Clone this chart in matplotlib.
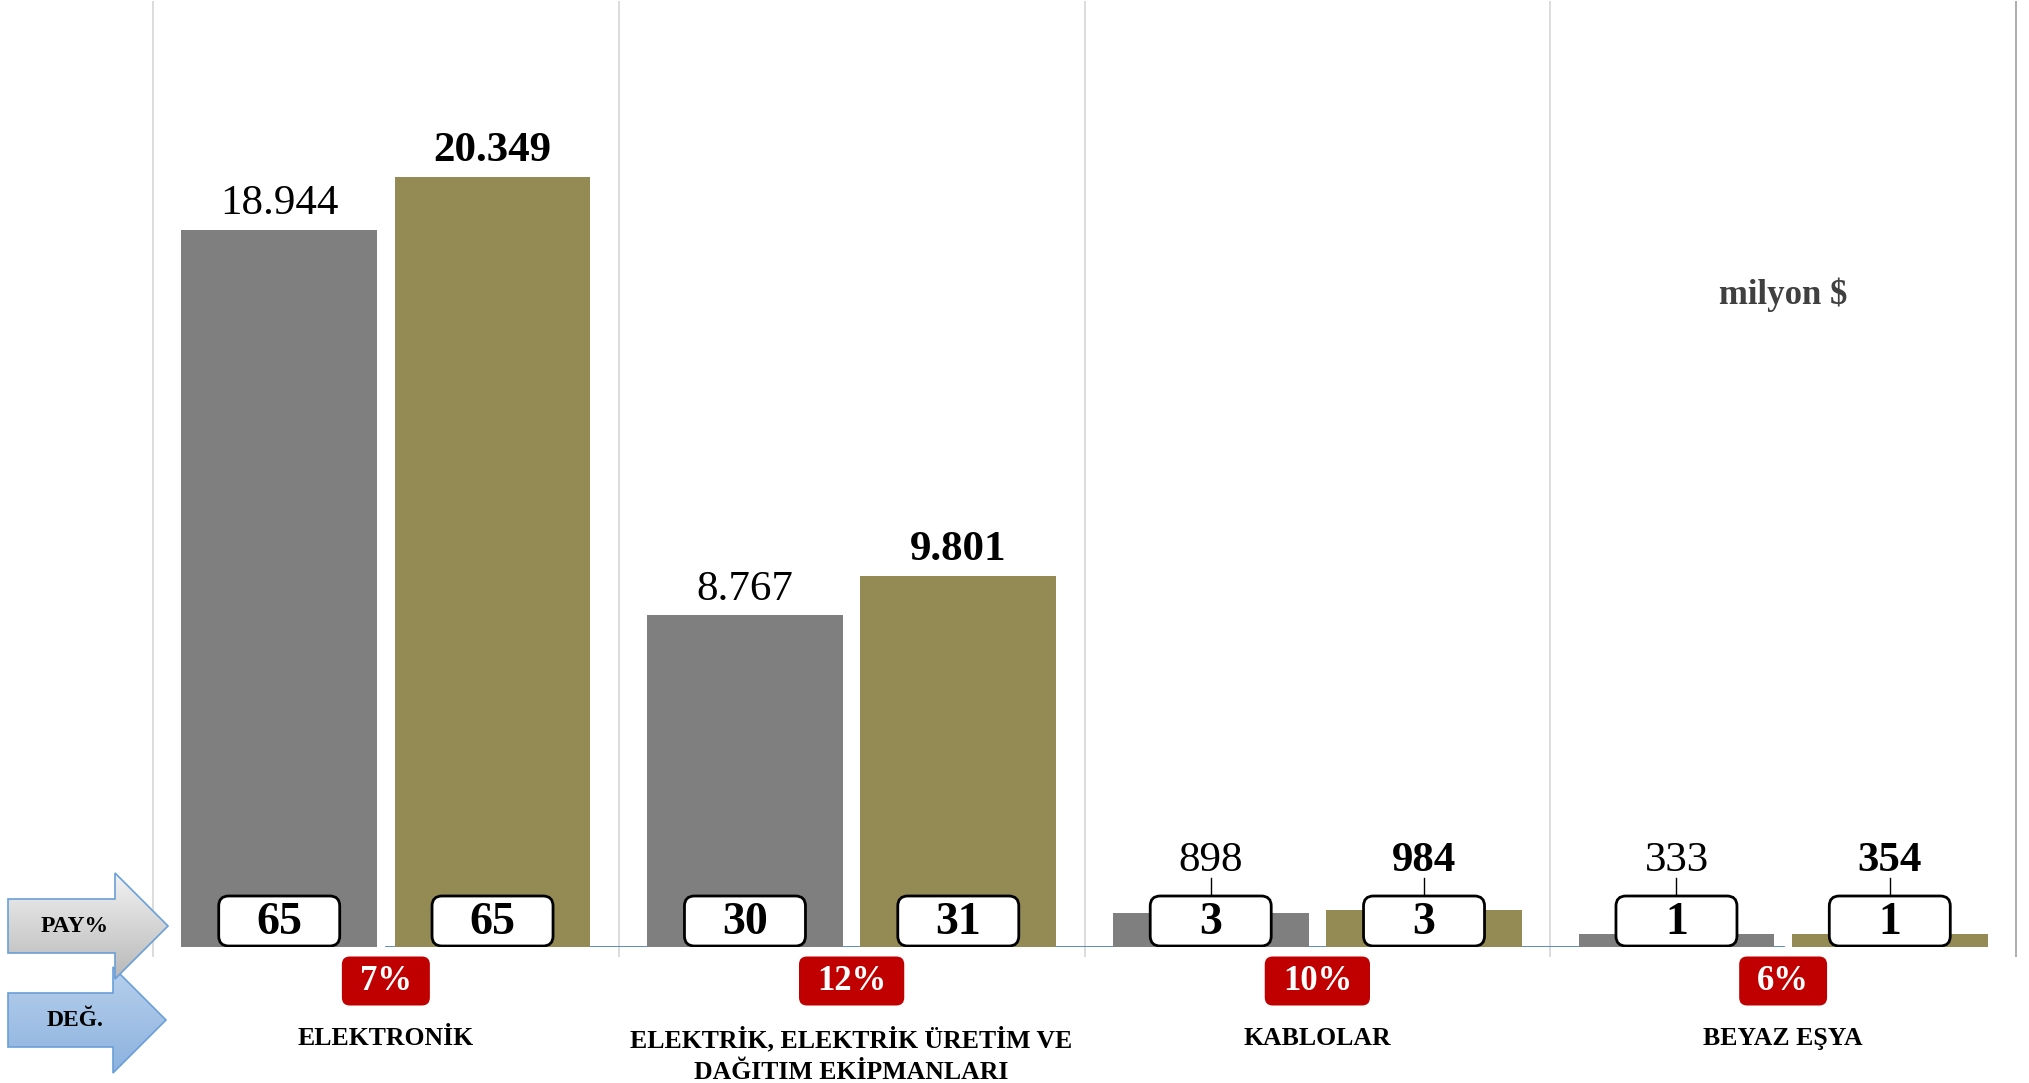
import numpy as np
import matplotlib
matplotlib.use("Agg")
import matplotlib.pyplot as plt
from matplotlib.patches import FancyBboxPatch, Polygon
from matplotlib.colors import LinearSegmentedColormap

plt.rcParams['font.family'] = ['Liberation Serif', 'DejaVu Serif']

categories = ["ELEKTRONİK", "ELEKTRİK, ELEKTRİK ÜRETİM VE\nDAĞITIM EKİPMANLARI",
              "KABLOLAR", "BEYAZ EŞYA"]
prev_values = [18944, 8767, 898, 333]
curr_values = [20349, 9801, 984, 354]
prev_share = [65, 30, 3, 1]
curr_share = [65, 31, 3, 1]
change_pct = ["7%", "12%", "10%", "6%"]

W, H = 2029, 1083
fig = plt.figure(figsize=(W / 100, H / 100), dpi=100)
ax = fig.add_axes([153 / W, (H - 947) / H, (2016 - 153) / W, 946 / H])
ax.set_xlim(-0.5, 3.5)
ax.set_ylim(0, 25000)
ax.axis('off')

# size of one pixel in data units
ypx = 25000 / 946
xpx = 4 / 1863

x = np.arange(len(categories))
off, bw = 0.229, 0.42

# category separators and baseline
ax.vlines(np.arange(-0.5, 3.0, 1.0), -10 * ypx, 25000, color='#d9d9d9', lw=1.3,
          clip_on=False, zorder=0)
ax.vlines(3.5, -10 * ypx, 25000, color='#a6a6a6', lw=1.3, clip_on=False, zorder=0)
ax.hlines(-0.5 * ypx, -0.5, 3.5, color='#d9d9d9', lw=1.3, zorder=0)
ax.plot(x, np.zeros(len(x)), color='#4F81BD', lw=2, zorder=1)

ax.bar(x - off, prev_values, bw, color='#7F7F7F', zorder=2)
ax.bar(x + off, curr_values, bw, color='#948A54', zorder=2)


def fmt(v):
    return f"{v:,}".replace(",", ".")


box_w, box_h, box_c = 121 * xpx, 50 * ypx, 26 * ypx
for i in x:
    for xc, val, share, bold in [(i - off, prev_values[i], prev_share[i], False),
                                 (i + off, curr_values[i], curr_share[i], True)]:
        ly = max(val + 26 * ypx, 86 * ypx)
        ax.text(xc, ly, fmt(val), ha='center', va='center', fontsize=31,
                fontweight='bold' if bold else 'normal', zorder=5)
        if ly < 200 * ypx:
            ax.plot([xc, xc], [box_c + box_h / 2, ly - 17 * ypx], color='black',
                    lw=1, zorder=3)
        ax.add_patch(FancyBboxPatch((xc - box_w / 2, box_c - box_h / 2), box_w, box_h,
                                    boxstyle=f"round,pad=0,rounding_size={10 * xpx}",
                                    mutation_aspect=ypx / xpx, fc='white', ec='black',
                                    lw=2, zorder=4))
        ax.text(xc, box_c - 2 * ypx, str(share), ha='center', va='center', fontsize=33,
                fontweight='bold', zorder=5)

# change badges
badge_y, badge_h = -34 * ypx, 49 * ypx
fig.canvas.draw()
renderer = fig.canvas.get_renderer()
for i, pct in enumerate(change_pct):
    t = ax.text(i, badge_y - 1 * ypx, pct, ha='center', va='center', fontsize=25,
                fontweight='bold', color='white', zorder=5)
    tw = t.get_window_extent(renderer).width
    w = (tw + 36) * xpx
    ax.add_patch(FancyBboxPatch((i - w / 2, badge_y - badge_h / 2), w, badge_h,
                                boxstyle=f"round,pad=0,rounding_size={8 * xpx}",
                                mutation_aspect=ypx / xpx, fc='#C00000', ec='none',
                                zorder=4, clip_on=False))

# category names
for i, name in enumerate(categories):
    ax.annotate(name, xy=(i, 0), xytext=(0, -80), textcoords='offset pixels',
                ha='center', va='top', fontsize=18.5, fontweight='bold',
                linespacing=1.45)

ax.text(3, 652 * ypx, "milyon $", ha='center', va='center', fontsize=25,
        fontweight='bold', color='#404040')

# left side arrows
ov = fig.add_axes([0, 0, 1, 1], zorder=3)
ov.set_xlim(0, W)
ov.set_ylim(H, 0)
ov.axis('off')

arrows = [
    ("DEĞ.", [(8, 993), (113, 993), (113, 967), (166, 1020), (113, 1073), (113, 1047), (8, 1047)],
     '#b7d0ec', '#8cb2df', 1020),
    ("PAY%", [(8, 899), (115, 899), (115, 873), (168, 926), (115, 979), (115, 953), (8, 953)],
     '#f2f2f2', '#b8b8b8', 926),
]
for z, (label, pts, c_top, c_bot, ty) in enumerate(arrows):
    pts = np.array(pts)
    poly = Polygon(pts, closed=True, fc='none', ec='#6A9FD8', lw=1.2, zorder=2 + 2 * z)
    ov.add_patch(poly)
    cmap = LinearSegmentedColormap.from_list('g', [c_top, c_bot])
    im = ov.imshow(np.linspace(0, 1, 256).reshape(-1, 1), cmap=cmap, aspect='auto',
                   extent=(pts[:, 0].min(), pts[:, 0].max(), pts[:, 1].max(), pts[:, 1].min()),
                   zorder=1 + 2 * z)
    im.set_clip_path(poly)
    ov.text(75, ty, label, ha='center', va='center', fontsize=17, fontweight='bold',
            zorder=6)
ov.set_xlim(0, W)
ov.set_ylim(H, 0)

fig.savefig("out.png", dpi=100, facecolor='white')
